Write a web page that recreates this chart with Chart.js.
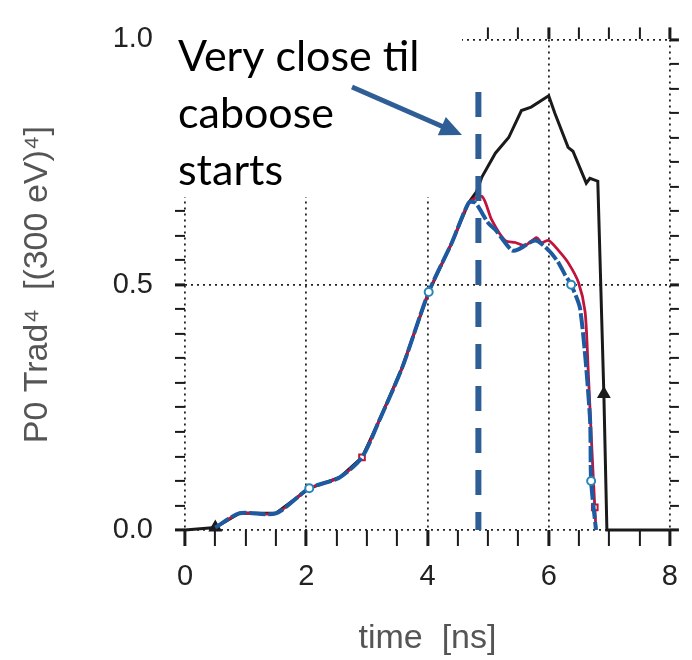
<!DOCTYPE html>
<html>
<head>
<meta charset="utf-8">
<script src="https://cdn.jsdelivr.net/npm/chart.js@4.4.1/dist/chart.umd.min.js"></script>
<style>
  html, body { margin: 0; padding: 0; background: #fff; }
  #wrap { width: 692px; height: 660px; }
</style>
</head>
<body>
<div id="wrap"><canvas id="trad-chart"></canvas></div>
<script>
// time [ns] / P0 Trad^4 values
const blackTime = [0, 0.5, 0.9, 1.5, 2.05, 2.55, 2.92, 3.2, 3.58, 4.02, 4.4, 4.68, 4.81, 4.9, 5.12, 5.34, 5.55, 5.71, 6.0, 6.1, 6.32, 6.4, 6.62, 6.68, 6.81, 6.91, 6.96, 8];
const blackValue = [0, 0.005, 0.034, 0.034, 0.085, 0.107, 0.148, 0.222, 0.33, 0.485, 0.585, 0.667, 0.69, 0.72, 0.768, 0.80, 0.855, 0.862, 0.885, 0.85, 0.78, 0.772, 0.707, 0.717, 0.711, 0.277, 0, 0];

const redTime = [0.5, 0.9, 1.5, 2.05, 2.55, 2.92, 3.2, 3.58, 4.02, 4.4, 4.68, 4.9, 5.06, 5.28, 5.45, 5.61, 5.8, 5.88, 6.0, 6.16, 6.32, 6.49, 6.6, 6.65, 6.7, 6.76, 6.78];
const redValue = [0.005, 0.034, 0.034, 0.085, 0.107, 0.148, 0.222, 0.33, 0.485, 0.585, 0.667, 0.68, 0.632, 0.59, 0.586, 0.58, 0.596, 0.586, 0.59, 0.57, 0.545, 0.505, 0.445, 0.33, 0.196, 0.046, 0];

const blueTime = [0.5, 0.9, 1.5, 2.05, 2.55, 2.92, 3.2, 3.58, 4.02, 4.4, 4.68, 4.79, 5.0, 5.12, 5.39, 5.5, 5.78, 6.0, 6.16, 6.27, 6.37, 6.52, 6.68, 6.7, 6.78];
const blueValue = [0.005, 0.034, 0.034, 0.085, 0.107, 0.148, 0.222, 0.33, 0.485, 0.585, 0.667, 0.667, 0.626, 0.612, 0.57, 0.572, 0.59, 0.57, 0.545, 0.52, 0.50, 0.45, 0.23, 0.10, 0];

// which points carry a marker
const blackMarks = [0.5, 6.91];
const redMarks = [2.92, 6.76];
const blueMarks = [2.05, 4.02, 6.37, 6.7];

const xTicks = [0, 2, 4, 6, 8];
const yTicks = [0.0, 0.5, 1.0];

// annotation: vertical line where the caboose starts
const cabooseTime = 4.84;
const cabooseTop = 0.893;
const noteLines = ["Very close til", "caboose", "starts"];

const noteBlue = "#2f5e97";

function toPoints(xs, ys) {
  return xs.map((x, i) => ({ x: x, y: ys[i] }));
}

function markRadius(xs, marks, r) {
  return xs.map((x) => (marks.includes(x) ? r : 0));
}

const isMajor = (v, list) => list.some((t) => Math.abs(t - v) < 1e-6);

const noteLayer = {
  id: "noteLayer",
  afterDraw(chart) {
    const ctx = chart.ctx;
    const x = chart.scales.x;
    const y = chart.scales.y;
    ctx.save();

    // white box behind the text
    ctx.fillStyle = "#fff";
    ctx.fillRect(168, 0, 294, 197);

    // dashed vertical line
    const lx = x.getPixelForValue(cabooseTime);
    ctx.strokeStyle = noteBlue;
    ctx.lineWidth = 6;
    ctx.setLineDash([25, 17]);
    ctx.beginPath();
    ctx.moveTo(lx, y.getPixelForValue(cabooseTop));
    ctx.lineTo(lx, y.getPixelForValue(0));
    ctx.stroke();
    ctx.setLineDash([]);

    // arrow
    const ax0 = 352, ay0 = 87, ax1 = 462, ay1 = 135;
    const ang = Math.atan2(ay1 - ay0, ax1 - ax0);
    const head = 22;
    ctx.lineWidth = 5;
    ctx.beginPath();
    ctx.moveTo(ax0, ay0);
    ctx.lineTo(ax1 - head * 0.8 * Math.cos(ang), ay1 - head * 0.8 * Math.sin(ang));
    ctx.stroke();
    ctx.fillStyle = noteBlue;
    ctx.beginPath();
    ctx.moveTo(ax1, ay1);
    ctx.lineTo(ax1 - head * Math.cos(ang) + 10 * Math.sin(ang), ay1 - head * Math.sin(ang) - 10 * Math.cos(ang));
    ctx.lineTo(ax1 - head * Math.cos(ang) - 10 * Math.sin(ang), ay1 - head * Math.sin(ang) + 10 * Math.cos(ang));
    ctx.closePath();
    ctx.fill();

    // text
    ctx.fillStyle = "#000";
    ctx.font = "43px Lato";
    ctx.textBaseline = "alphabetic";
    ctx.textAlign = "left";
    noteLines.forEach((line, i) => {
      ctx.fillText(line, 178, 71 + i * 57);
    });
    ctx.restore();
  },
};

const tickFont = { family: "Liberation Sans", size: 29 };
const titleFont = { family: "Liberation Sans", size: 34 };

function gridFor(majors) {
  return {
    drawOnChartArea: true,
    color: (c) => (c.tick && isMajor(c.tick.value, majors) ? "#222" : "rgba(0,0,0,0)"),
    lineWidth: 1.8,
    tickColor: "#1a1a1a",
    tickWidth: (c) => (c.tick && isMajor(c.tick.value, majors) ? 3 : 2),
    tickBorderDash: [],
  };
}

function halfSteps(s) {
  s.ticks = [];
  for (let i = 0; i <= 16; i++) s.ticks.push({ value: i * 0.5 });
}

function twentieths(s) {
  s.ticks = [];
  for (let i = 0; i <= 20; i++) s.ticks.push({ value: i * 0.05 });
}

new Chart(document.getElementById("trad-chart"), {
  type: "line",
  data: {
    datasets: [
      {
        label: "blue",
        data: toPoints(blueTime, blueValue),
        borderColor: "#1d5aa0",
        borderWidth: 4,
        borderDash: [16, 3],
        pointRadius: markRadius(blueTime, blueMarks, 4),
        pointStyle: "circle",
        pointBackgroundColor: "#fff",
        pointBorderColor: "#2a86b8",
        pointBorderWidth: 2,
        tension: 0.25,
        clip: 8,
      },
      {
        label: "red",
        data: toPoints(redTime, redValue),
        borderColor: "#c0143c",
        borderWidth: 2.8,
        pointRadius: markRadius(redTime, redMarks, 4),
        pointStyle: "rect",
        pointBackgroundColor: "#fff",
        pointBorderColor: "#c0143c",
        pointBorderWidth: 2,
        tension: 0.25,
        clip: 8,
      },
      {
        label: "black",
        data: toPoints(blackTime, blackValue),
        borderColor: "#1a1a1a",
        borderWidth: 3,
        pointRadius: markRadius(blackTime, blackMarks, 5),
        pointStyle: "triangle",
        pointBackgroundColor: "#1a1a1a",
        pointBorderColor: "#1a1a1a",
        tension: 0,
        clip: 8,
      },
    ],
  },
  options: {
    responsive: true,
    maintainAspectRatio: false,
    animation: false,
    events: [],
    layout: { padding: 0 },
    plugins: {
      legend: { display: false },
      tooltip: { enabled: false },
    },
    scales: {
      x: {
        type: "linear",
        position: "bottom",
        min: 0,
        max: 8,
        afterBuildTicks: halfSteps,
        ticks: {
          autoSkip: false,
          maxRotation: 0,
          padding: 14,
          color: "#222",
          font: tickFont,
          callback: (v) => (isMajor(v, xTicks) ? String(v) : ""),
        },
        grid: Object.assign(gridFor(xTicks), { tickLength: 16 }),
        border: { display: false, dash: [2, 4] },
        title: {
          display: true,
          text: "time  [ns]",
          color: "#555",
          font: titleFont,
          padding: { top: 1, bottom: 1 },
        },
        afterFit: (s) => { s.height = 130; },
      },
      x2: {
        type: "linear",
        position: "top",
        min: 0,
        max: 8,
        afterBuildTicks: halfSteps,
        ticks: { display: false },
        grid: Object.assign(gridFor(xTicks), { drawOnChartArea: false, tickLength: 12 }),
        border: { display: false },
        afterFit: (s) => { s.height = 35; },
      },
      y: {
        type: "linear",
        position: "left",
        min: 0,
        max: 1,
        afterBuildTicks: twentieths,
        ticks: {
          autoSkip: false,
          padding: 22,
          color: "#222",
          font: tickFont,
          callback: (v) => (isMajor(v, yTicks) ? v.toFixed(1) : ""),
        },
        grid: Object.assign(gridFor(yTicks), { tickLength: 10 }),
        border: { display: false, dash: [2, 4] },
        title: {
          display: true,
          text: "P0 Trad⁴  [(300 eV)⁴]",
          color: "#555",
          font: titleFont,
          padding: { top: 17, bottom: 0 },
        },
        afterFit: (s) => { s.width = 185; },
      },
      y2: {
        type: "linear",
        position: "right",
        min: 0,
        max: 1,
        afterBuildTicks: twentieths,
        ticks: { display: false },
        grid: Object.assign(gridFor(yTicks), { drawOnChartArea: false, tickLength: 9 }),
        border: { display: false },
        afterFit: (s) => { s.width = 20; },
      },
    },
  },
  plugins: [noteLayer],
});
</script>
</body>
</html>
